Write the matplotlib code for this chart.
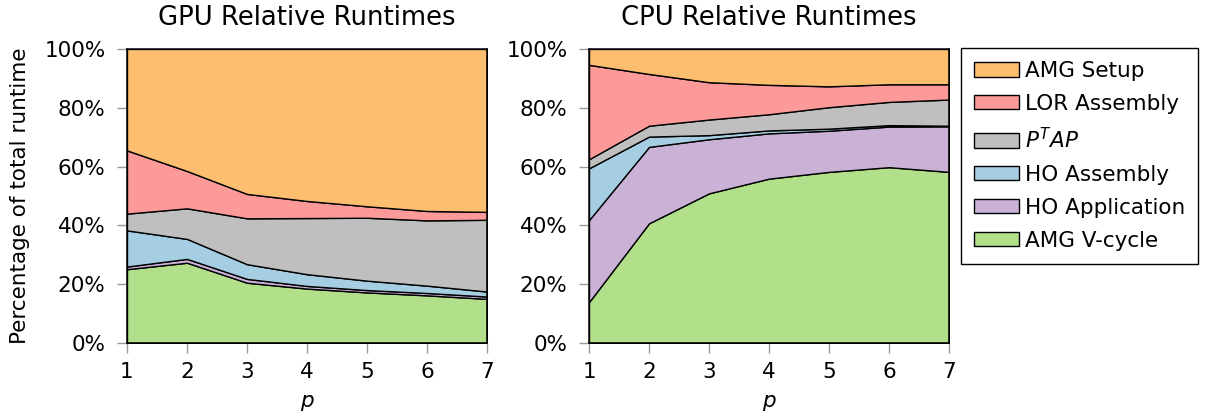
import matplotlib
matplotlib.use("Agg")
import matplotlib.pyplot as plt
from matplotlib.ticker import FuncFormatter

plt.rcParams['font.family'] = ['DejaVu Sans']
plt.rcParams['font.size'] = 15.5
plt.rcParams['mathtext.fontset'] = 'dejavusans'

p = [1, 2, 3, 4, 5, 6, 7]

labels = ['AMG V-cycle', 'HO Application', 'HO Assembly', '$P^TAP$',
          'LOR Assembly', 'AMG Setup']
colors = ['#b2df8a', '#cab2d6', '#a6cee3', '#bfbfbf', '#fb9a99', '#fdbf6f']

# share of total runtime (%) per component, bottom to top
gpu_vcycle = [25.1, 27.3, 20.5, 18.5, 17.2, 16.2, 15.0]
gpu_ho_apply = [0.9, 1.3, 1.3, 0.9, 0.8, 0.8, 0.8]
gpu_ho_assembly = [12.3, 6.8, 5.0, 4.0, 3.2, 2.5, 1.7]
gpu_ptap = [5.7, 10.4, 15.6, 19.1, 21.4, 22.2, 24.4]
gpu_lor_assembly = [21.5, 12.7, 8.3, 5.8, 3.9, 3.2, 2.7]
gpu_amg_setup = [34.5, 41.5, 49.3, 51.7, 53.5, 55.1, 55.4]

cpu_vcycle = [13.9, 40.7, 50.9, 55.9, 58.2, 59.8, 58.2]
cpu_ho_apply = [27.9, 26.0, 18.4, 15.4, 14.0, 13.8, 15.5]
cpu_ho_assembly = [17.6, 3.5, 1.4, 1.0, 0.7, 0.5, 0.2]
cpu_ptap = [3.1, 3.7, 5.3, 5.5, 7.3, 7.9, 8.9]
cpu_lor_assembly = [32.1, 17.6, 12.7, 10.0, 7.1, 6.0, 5.2]
cpu_amg_setup = [5.4, 8.5, 11.3, 12.2, 12.7, 12.0, 12.0]

gpu = [gpu_vcycle, gpu_ho_apply, gpu_ho_assembly, gpu_ptap,
       gpu_lor_assembly, gpu_amg_setup]
cpu = [cpu_vcycle, cpu_ho_apply, cpu_ho_assembly, cpu_ptap,
       cpu_lor_assembly, cpu_amg_setup]

fig = plt.figure(figsize=(12.06, 4.12), dpi=100)
ax1 = fig.add_axes([0.1053, 0.1675, 0.2985, 0.7136])
ax2 = fig.add_axes([0.4884, 0.1675, 0.2985, 0.7136])

for ax, data, title in [(ax1, gpu, 'GPU Relative Runtimes'),
                        (ax2, cpu, 'CPU Relative Runtimes')]:
    ax.stackplot(p, *data, colors=colors, labels=labels,
                 edgecolor='black', linewidth=1.0)
    ax.set_xlim(1, 7)
    ax.set_ylim(0, 100)
    ax.set_xticks(p)
    ax.set_yticks(range(0, 101, 20))
    ax.yaxis.set_major_formatter(FuncFormatter(lambda v, _: f'{v:.0f}%'))
    ax.tick_params(direction='out', length=7.5, width=1, color='#999999',
                   pad=6, top=False, right=False)
    ax.tick_params(axis='y', pad=8)
    for s in ax.spines.values():
        s.set_linewidth(1.1)
        s.set_zorder(5)
    ax.set_title(title, pad=17)
    ax.set_xlabel('$p$', labelpad=8)

ax1.set_ylabel('Percentage of total runtime', labelpad=10)

handles, names = ax2.get_legend_handles_labels()
leg = fig.legend(handles[::-1], names[::-1], loc='upper left',
                 bbox_to_anchor=(961 / 1206, 1 - 48 / 412),
                 borderaxespad=0, fancybox=False, edgecolor='black',
                 framealpha=1, handlelength=2.1, handleheight=0.65,
                 handletextpad=0.28, labelspacing=0.6, borderpad=0.6)
leg.get_frame().set_linewidth(1.0)

fig.savefig('out.png', dpi=100)
